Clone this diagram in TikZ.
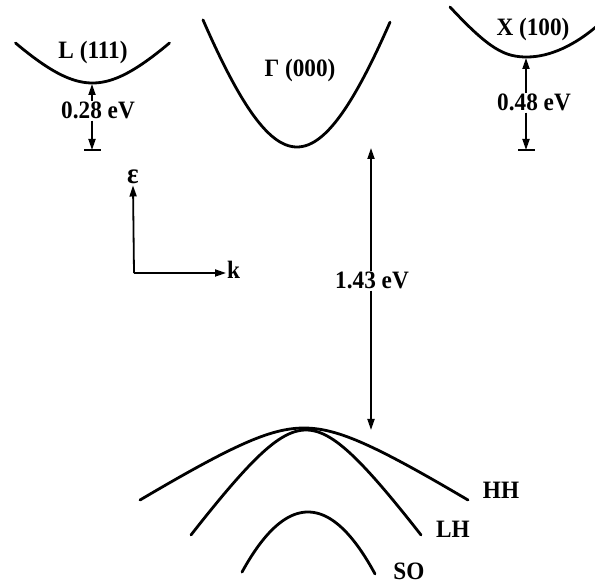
\documentclass[tikz,border=0pt]{standalone}
\usepackage{fontspec}
\setmainfont{Liberation Serif}[FakeStretch=0.93]
\usetikzlibrary{arrows.meta}
\begin{document}
\begin{tikzpicture}[x=1pt,y=-1pt,
  band/.style={line width=2.8pt,line cap=round},
  dim/.style={line width=1.8pt},
  tipend/.style={-{Triangle[length=11pt,width=7pt]}},
  lbl/.style={font=\fontsize{25}{27}\selectfont\bfseries,inner sep=1pt}]
\useasboundingbox (0,0) rectangle (595,585);
% conduction band valleys
\draw[band] plot[domain=-77:77,samples=60] ({92.5+\x},{83-63.8*(sqrt(1+(\x/60)^2)-1)});
\draw[band] plot[domain=-94:93,samples=80] ({297+\x},{147-285*(sqrt(1+(\x/90)^2)-1)});
\draw[band] (450,7) .. controls (490,50) and (505,57) .. (527,57) .. controls (550,57) and (575,45) .. (597,26);
% valence bands
\draw[band] plot[domain=-164:164,samples=80] ({304+\x},{428+37.7*(sqrt(1+(\x/60)^2)-1)});
\draw[band] plot[domain=-115:115,samples=80] ({306+\x},{430+69.6*(sqrt(1+(\x/50)^2)-1)});
\draw[band] plot[domain=-66:67,samples=60] ({308+\x},{512+0.0138*\x*\x});
% labels
\node[lbl,anchor=base] (lL) at (93,59) {L (111)};
\node[lbl,anchor=base] (lG) at (300,77) {Γ (000)};
\node[lbl,anchor=base] (lX) at (533,36) {X (100)};
\node[lbl,anchor=base] (lHH) at (501,499) {HH};
\node[lbl,anchor=base] (lLH) at (453,537) {LH};
\node[lbl,anchor=base,inner sep=0pt] (lSO) at (409,579) {SO};
% L gap
\coordinate (Lmin) at (92,84);
\coordinate (Lbar) at (92,150);
\node[lbl,anchor=base] (l28) at (98,119) {0.28 eV};
\draw[dim,tipend] (l28.north -| Lmin) -- (Lmin);
\draw[dim,tipend] (l28.south -| Lmin) -- (Lbar);
\draw[dim] (84,150) -- (101,150);
% X gap
\coordinate (Xmin) at (526,58);
\coordinate (Xbar) at (526,150);
\node[lbl,anchor=base] (l48) at (534,111) {0.48 eV};
\draw[dim,tipend] (l48.north -| Xmin) -- (Xmin);
\draw[dim,tipend] (l48.south -| Xmin) -- (Xbar);
\draw[dim] (518,150) -- (535,150);
% main gap
\coordinate (Gmin) at (371,148);
\coordinate (Vmax) at (371,430);
\node[lbl,anchor=base] (l143) at (372,289) {1.43 eV};
\draw[dim,tipend] (l143.north -| Gmin) -- (Gmin);
\draw[dim,tipend] (l143.south -| Gmin) -- (Vmax);
% axes
\coordinate (O) at (134,273);
\node[lbl,anchor=base,font=\fontsize{29}{31}\selectfont\bfseries] (eps) at (133,184) {ε};
\node[lbl,anchor=base west] (kk) at (226,279) {k};
\draw[dim,tipend] (O) -- (eps.south);
\draw[dim,tipend] (O) -- (kk.west |- O);
\end{tikzpicture}
\end{document}
